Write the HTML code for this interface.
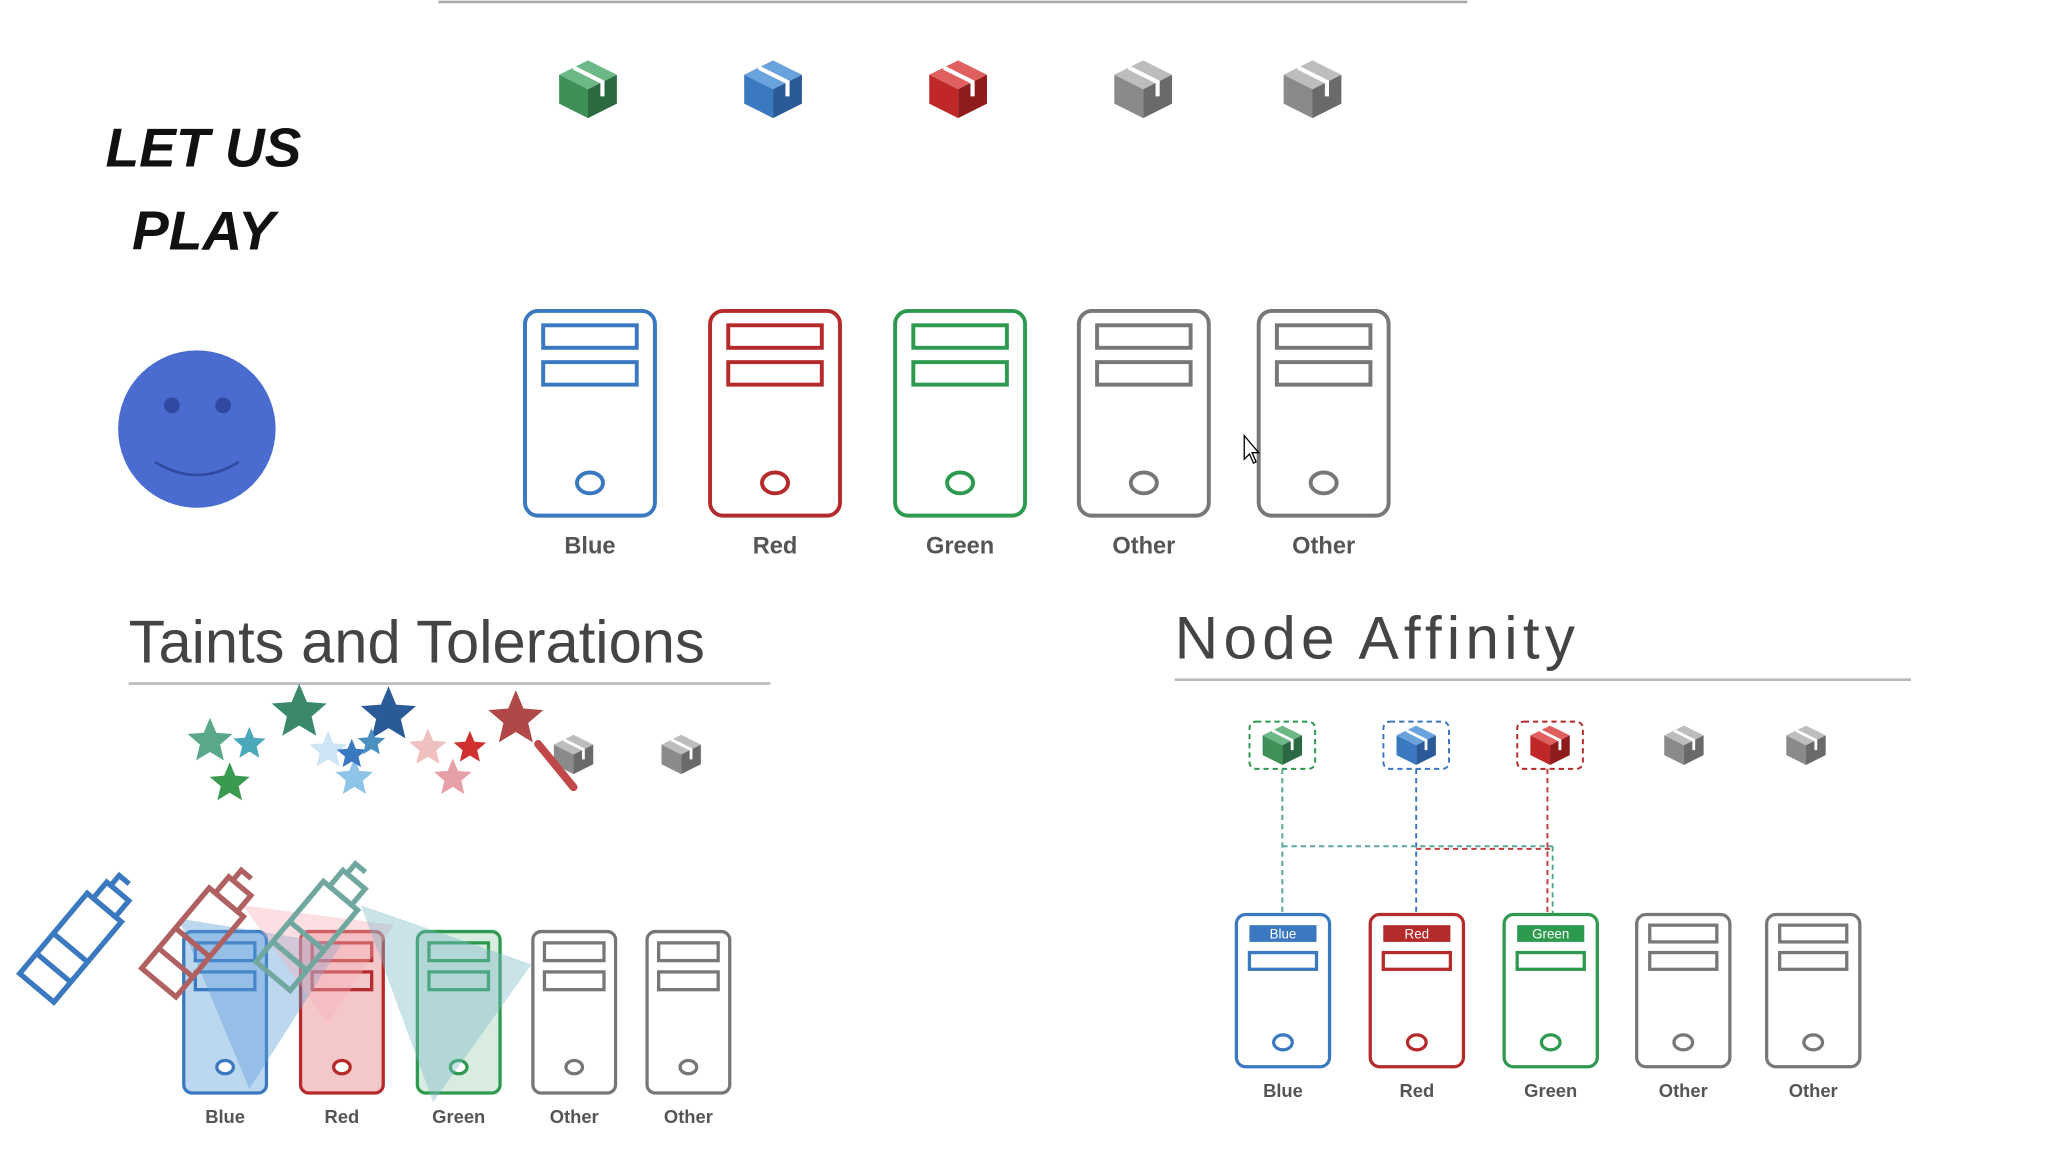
<!DOCTYPE html>
<html><head><meta charset="utf-8"><style>
html,body{margin:0;padding:0;background:#fff;}
svg{display:block}
text{font-family:"Liberation Sans",sans-serif}
</style></head><body>
<svg id="s" width="2058" height="1152" viewBox="0 0 1568 878" preserveAspectRatio="none" xmlns="http://www.w3.org/2000/svg">
<rect width="1568" height="878" fill="#fff"/>
<line x1="334" y1="1.5" x2="1118" y2="1.5" stroke="#aaa" stroke-width="2"/>
<text x="155" y="127" font-size="42" font-weight="bold" font-style="italic" text-anchor="middle" fill="#111">LET US</text>
<text x="155" y="190" font-size="42" font-weight="bold" font-style="italic" text-anchor="middle" fill="#111">PLAY</text>
<circle cx="150" cy="327" r="60" fill="#4a6bd0"/>
<circle cx="131" cy="309" r="6" fill="#2f4aa0"/>
<circle cx="170" cy="309" r="6" fill="#2f4aa0"/>
<path d="M118 352 Q150 372 182 352" fill="none" stroke="#2f4aa0" stroke-width="2"/>
<text x="98" y="505" font-size="46" fill="#444" textLength="439" lengthAdjust="spacingAndGlyphs">Taints and Tolerations</text>
<line x1="98" y1="521" x2="587" y2="521" stroke="#bbb" stroke-width="2"/>
<text x="895" y="502" font-size="46" fill="#444" textLength="305" lengthAdjust="spacing">Node Affinity</text>
<line x1="895" y1="518" x2="1456" y2="518" stroke="#bbb" stroke-width="2"/>
<g id="dyn"></g>
<path d="M948 332 l0 18 l4 -4 l3 7 l2 -1 l-3 -7 l5 0 z" fill="#fff" stroke="#000" stroke-width="1"/>
</svg>
<script>
const g=document.getElementById('dyn');let h='';
const C={blue:['#6aa2de','#3a78c0','#2a5a98'],red:['#e06060','#c02828','#8e1c1c'],green:['#6cb886','#3f8f58','#2b6a40'],gray:['#bdbdbd','#8a8a8a','#6a6a6a']};
function cube(cx,cy,s,c){const k=C[c];
h+=`<polygon points="${cx},${cy-s/2} ${cx+s/2},${cy-s/4} ${cx},${cy} ${cx-s/2},${cy-s/4}" fill="${k[0]}"/>`;
h+=`<polygon points="${cx-s/2},${cy-s/4} ${cx},${cy} ${cx},${cy+s/2} ${cx-s/2},${cy+s/4}" fill="${k[1]}"/>`;
h+=`<polygon points="${cx+s/2},${cy-s/4} ${cx},${cy} ${cx},${cy+s/2} ${cx+s/2},${cy+s/4}" fill="${k[2]}"/>`;
h+=`<path d="M${cx-s/4},${cy-3*s/8} L${cx+s/4},${cy-s/8} L${cx+s/4},${cy+s/8}" stroke="#fff" stroke-width="${s/14}" fill="none"/>`;}
const SC={blue:'#3a78c0',red:'#b52a2a',green:'#2e9a50',gray:'#777'};
function server(x,y,w,hh,c,fill,lbl,ly,fs,sw,tag){const col=SC[c];
h+=`<rect x="${x}" y="${y}" width="${w}" height="${hh}" rx="${w*0.1}" fill="${fill||'#fff'}" stroke="${col}" stroke-width="${sw}"/>`;
const ix=x+w*0.14,iw=w*0.72,rh=hh*0.11;
if(tag){h+=`<rect x="${ix}" y="${y+hh*0.07}" width="${iw}" height="${rh}" fill="${col}"/><text x="${x+w/2}" y="${y+hh*0.07+rh*0.8}" font-size="${rh*0.8}" fill="#fff" text-anchor="middle">${tag}</text>`;}
else h+=`<rect x="${ix}" y="${y+hh*0.07}" width="${iw}" height="${rh}" fill="none" stroke="${col}" stroke-width="${sw}"/>`;
h+=`<rect x="${ix}" y="${y+hh*0.25}" width="${iw}" height="${rh}" fill="none" stroke="${col}" stroke-width="${sw}"/>`;
h+=`<ellipse cx="${x+w/2}" cy="${y+hh*0.84}" rx="${w*0.1}" ry="${w*0.08}" fill="#fff" stroke="${col}" stroke-width="${sw}"/>`;
h+=`<text x="${x+w/2}" y="${ly}" font-size="${fs}" font-weight="bold" fill="#555" text-anchor="middle">${lbl}</text>`;}
[[448,'green'],[589,'blue'],[730,'red'],[871,'gray'],[1000,'gray']].forEach(a=>cube(a[0],68,44,a[1]));
[[400,'blue','Blue'],[541,'red','Red'],[682,'green','Green'],[822,'gray','Other'],[959,'gray','Other']].forEach(a=>server(a[0],237,99,156,a[1],null,a[2],422,18,3));
[[140,'blue','Blue','#bcd8f0'],[229,'red','Red','#f4c8c8'],[318,'green','Green','#d8ecdf'],[406,'gray','Other',null],[493,'gray','Other',null]].forEach(a=>server(a[0],710,63,123,a[1],a[3],a[2],856,14,2.5));
cube(437,575,30,'gray');cube(519,575,30,'gray');
function star(cx,cy,r,c,o){let p='';for(let i=0;i<10;i++){const rr=i%2?r*0.45:r,a=-Math.PI/2+i*Math.PI/5;p+=`${cx+rr*Math.cos(a)},${cy+rr*Math.sin(a)} `;}h+=`<polygon points="${p}" fill="${c}" opacity="${o||1}"/>`;}
star(160,565,18,'#5aa88a');star(190,567,13,'#4aa8b8');star(175,597,16,'#3a9a50');star(228,543,22,'#3a8a6a');
star(250,572,15,'#cce4f4');star(270,593,15,'#8ec4e8');star(268,575,12,'#3a78c0');star(296,545,22,'#2a5a98');star(283,566,11,'#4a90c0');
star(326,570,15,'#f0c0c0');star(345,593,15,'#e8a0a8');star(358,570,13,'#d03030');star(393,548,22,'#b04848');
h+=`<line x1="410" y1="567" x2="437" y2="600" stroke="#c04848" stroke-width="6" stroke-linecap="round"/>`;
h+=`<polygon points="136,700 190,830 260,720" fill="#5a9ad8" opacity="0.4"/>`;
h+=`<polygon points="185,690 250,780 300,705" fill="#f4b0b8" opacity="0.4"/>`;
h+=`<polygon points="275,690 330,840 405,735" fill="#7ab8c8" opacity="0.4"/>`;
function bottle(x,y,c){h+=`<g transform="translate(${x},${y}) rotate(-50)" fill="none" stroke="${c}" stroke-width="4"><rect x="0" y="0" width="80" height="34"/><line x1="20" y1="0" x2="20" y2="34"/><line x1="40" y1="0" x2="40" y2="34"/><rect x="80" y="6" width="16" height="22"/><path d="M96 10 h10 v10"/></g>`;}
bottle(15,742,'#3a78c0');bottle(108,738,'#b06060');bottle(195,733,'#70a8a0');
[[977,'green'],[1079,'blue'],[1181,'red']].forEach(a=>{h+=`<rect x="${a[0]-25}" y="550" width="50" height="36" rx="5" fill="none" stroke="${SC[a[1]]}" stroke-width="1.5" stroke-dasharray="4,3"/>`;cube(a[0],568,30,a[1]);});
cube(1283,568,30,'gray');cube(1376,568,30,'gray');
h+=`<line x1="977" y1="586" x2="977" y2="697" stroke="#5aa88a" stroke-width="1.5" stroke-dasharray="4,3"/>`;
h+=`<line x1="1079" y1="586" x2="1079" y2="697" stroke="#3a78c0" stroke-width="1.5" stroke-dasharray="4,3"/>`;
h+=`<line x1="1179" y1="586" x2="1179" y2="697" stroke="#c04040" stroke-width="1.5" stroke-dasharray="4,3"/>`;
h+=`<line x1="1183" y1="645" x2="1183" y2="697" stroke="#5aa88a" stroke-width="1.5" stroke-dasharray="4,3"/>`;
h+=`<line x1="977" y1="645" x2="1183" y2="645" stroke="#5aa8a0" stroke-width="1.5" stroke-dasharray="4,3"/>`;
h+=`<line x1="1079" y1="647" x2="1181" y2="647" stroke="#c04040" stroke-width="1.5" stroke-dasharray="4,3"/>`;
[[942,'blue','Blue','Blue'],[1044,'red','Red','Red'],[1146,'green','Green','Green'],[1247,'gray','Other',null],[1346,'gray','Other',null]].forEach(a=>server(a[0],697,71,116,a[1],null,a[2],836,14,2.5,a[3]));
g.innerHTML=h;
</script>
</body></html>
